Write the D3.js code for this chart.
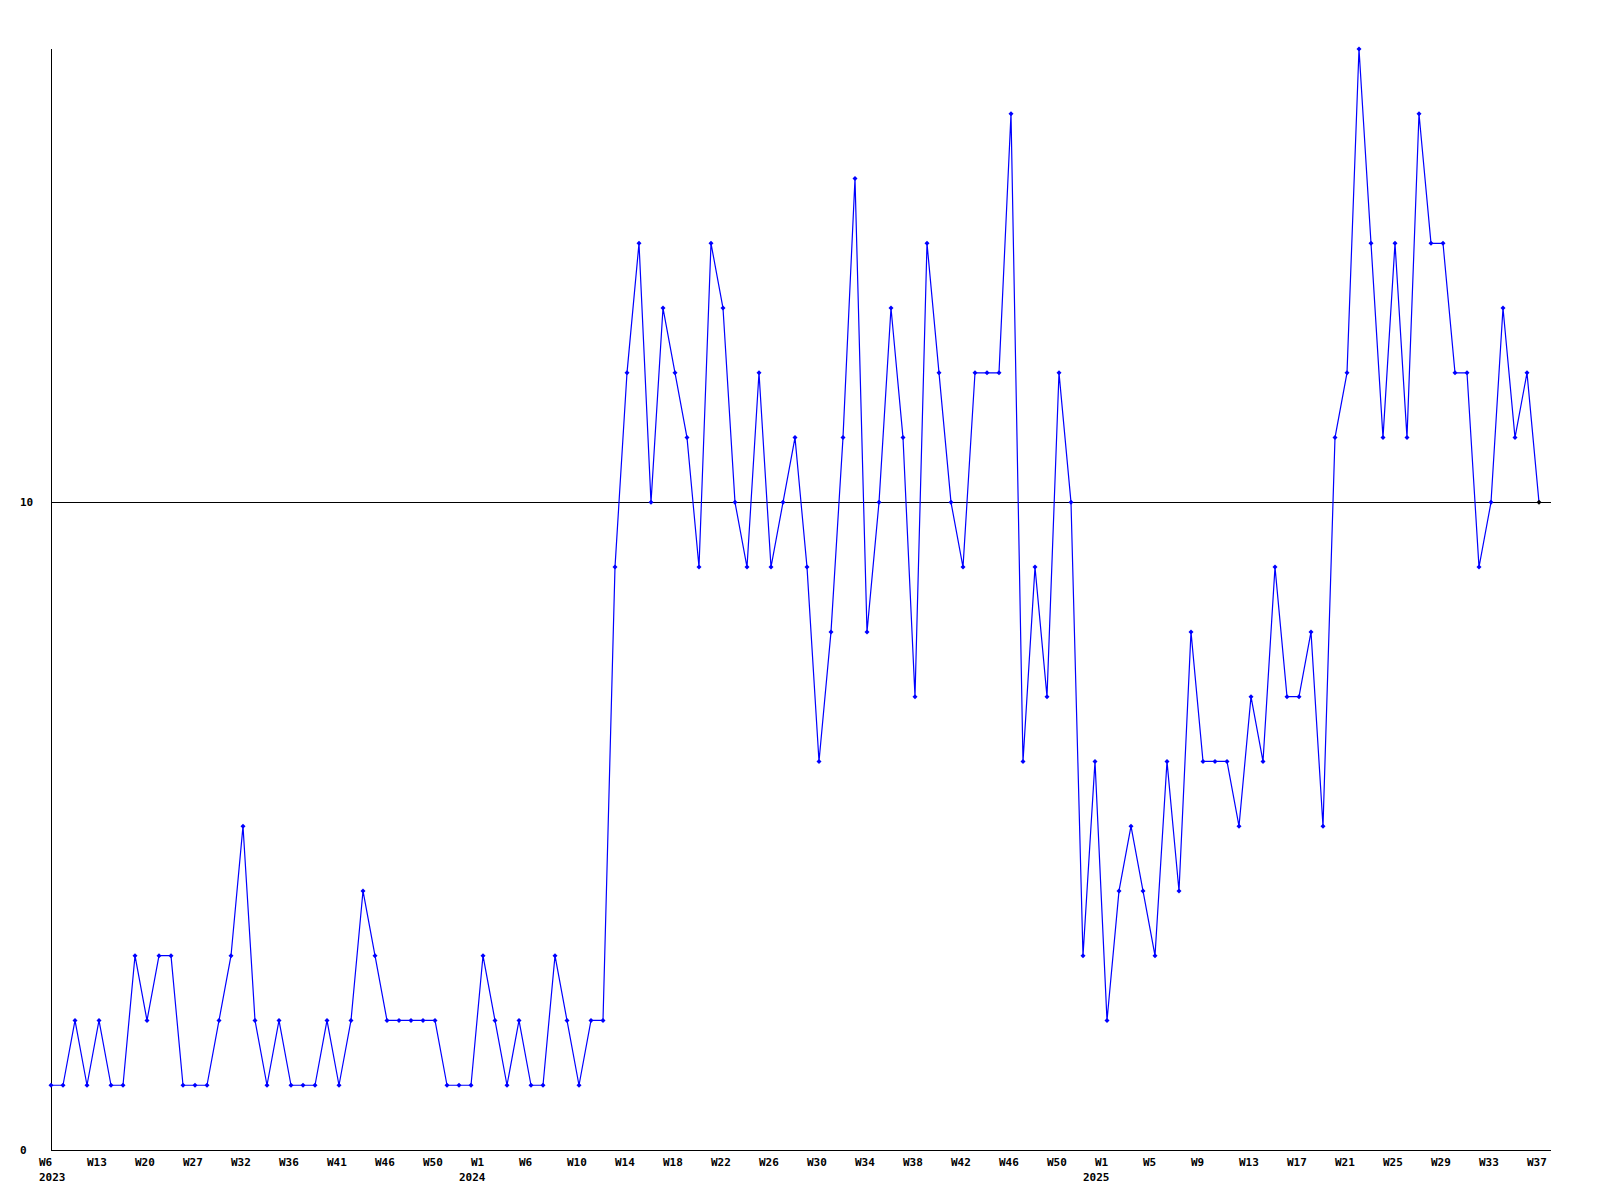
<!DOCTYPE html>
<html>
<head>
<meta charset="utf-8">
<script src="https://cdn.jsdelivr.net/npm/d3@7"></script>
<style>
  body { margin: 0; background: #fff; }
  text { font-family: "DejaVu Sans Mono", monospace; font-weight: bold; font-size: 11px; fill: #000; }
</style>
</head>
<body>
<div id="chart"></div>
<script>
// weekly counts, 2023 W6 .. 2025 W37 (one value per point)
var values = [1,1,2,1,2,1,1,3,2,3,3,1,1,1,2,3,5,2,1,2,1,1,1,2,1,2,4,3,2,2,2,2,2,
    1,1,1,3,2,1,2,1,1,3,2,1,2,2,9,12,14,10,13,12,11,9,14,13,10,9,12,9,10,11,9,6,
    8,11,15,8,10,13,11,7,14,12,10,9,12,12,12,16,6,9,7,12,10,3,6,2,4,5,4,3,6,4,8,
    6,6,6,5,7,6,9,7,7,8,5,11,12,17,14,11,14,11,16,14,14,12,12,9,10,13,11,12,10];

// week labels, one every 4 points
var tickLabels = ["W6","W13","W20","W27","W32","W36","W41","W46","W50",
    "W1","W6","W10","W14","W18","W22","W26","W30","W34","W38","W42","W46","W50",
    "W1","W5","W9","W13","W17","W21","W25","W29","W33","W37"];
var yearLabels = ["2023", "2024", "2025"];
var yearIndex = [0, 36, 88];
var yTicks = [0, 10];

var width = 1600, height = 1200;
var x = d3.scaleLinear().domain([0, values.length - 1]).range([51, 1539]);
var y = d3.scaleLinear().domain([0, 17]).range([1150, 49]);

var svg = d3.select("#chart").append("svg")
    .attr("width", width)
    .attr("height", height);

// reference line at 10
svg.append("line")
    .attr("x1", 51).attr("x2", 1551)
    .attr("y1", Math.round(y(10)) + 0.5).attr("y2", Math.round(y(10)) + 0.5)
    .attr("stroke", "#000").attr("stroke-width", 1);

// axes lines
svg.append("line")
    .attr("x1", 51.5).attr("x2", 51.5)
    .attr("y1", 49).attr("y2", 1150)
    .attr("stroke", "#000");
svg.append("line")
    .attr("x1", 51).attr("x2", 1551)
    .attr("y1", 1150.5).attr("y2", 1150.5)
    .attr("stroke", "#000");

// y labels
svg.selectAll(".ylab").data(yTicks).enter().append("text")
    .attr("x", 20)
    .attr("y", function(d) { return y(d) + 4; })
    .text(function(d) { return d; });

// x labels
svg.selectAll(".xlab").data(tickLabels).enter().append("text")
    .attr("x", function(d, i) { return x(i * 4) - 12; })
    .attr("y", 1166)
    .text(function(d) { return d; });

svg.selectAll(".year").data(yearLabels).enter().append("text")
    .attr("x", function(d, i) { return Math.max(39, x(yearIndex[i]) - 24); })
    .attr("y", 1181)
    .text(function(d) { return d; });

// the line
var line = d3.line()
    .x(function(d, i) { return x(i); })
    .y(function(d) { return y(d); });

svg.append("path")
    .datum(values)
    .attr("fill", "none")
    .attr("stroke", "#0000ff")
    .attr("stroke-width", 1.2)
    .attr("d", line);

// small diamond markers
svg.selectAll(".pt").data(values).enter().append("path")
    .attr("transform", function(d, i) { return "translate(" + x(i) + "," + y(d) + ")"; })
    .attr("d", "M0,-2.5L2.5,0L0,2.5L-2.5,0Z")
    .attr("fill", function(d, i) { return i == values.length - 1 ? "#000" : "#0000ff"; });
</script>
</body>
</html>
